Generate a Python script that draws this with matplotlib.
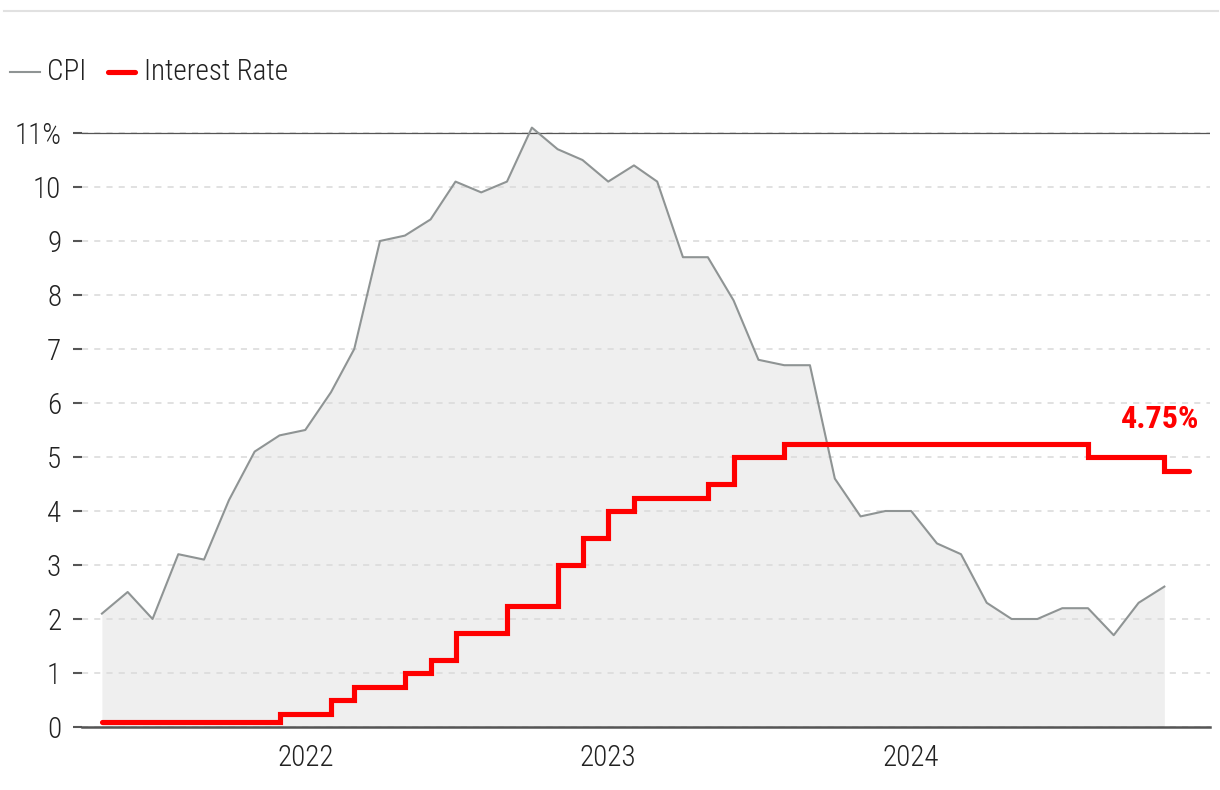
import matplotlib
matplotlib.use('Agg')
import matplotlib.pyplot as plt
import matplotlib.dates as mdates
from matplotlib import font_manager
from matplotlib.lines import Line2D
import pandas as pd

# pick a narrow font if one is installed
names = {f.name for f in font_manager.fontManager.ttflist}
narrow = [n for n in ['Liberation Sans Narrow', 'Roboto Condensed',
                      'DejaVu Sans Condensed', 'Open Sans Condensed'] if n in names]
plt.rcParams['font.family'] = narrow[:1] + ['DejaVu Sans']
plt.rcParams['font.stretch'] = 'condensed'
plt.rcParams['font.weight'] = 'light'

# Monthly CPI, May 2021 - Nov 2024 (%)
cpi_months = pd.date_range('2021-05-01', periods=43, freq='MS')
cpi = [2.1, 2.5, 2.0, 3.2, 3.1, 4.2, 5.1, 5.4,
       5.5, 6.2, 7.0, 9.0, 9.1, 9.4, 10.1, 9.9, 10.1, 11.1, 10.7, 10.5,
       10.1, 10.4, 10.1, 8.7, 8.7, 7.9, 6.8, 6.7, 6.7, 4.6, 3.9, 4.0,
       4.0, 3.4, 3.2, 2.3, 2.0, 2.0, 2.2, 2.2, 1.7, 2.3, 2.6]

# Interest rate by month, May 2021 - Dec 2024 (%)
rate_months = pd.date_range('2021-05-01', periods=44, freq='MS')
rate = [0.1, 0.1, 0.1, 0.1, 0.1, 0.1, 0.1, 0.25,
        0.25, 0.5, 0.75, 0.75, 1.0, 1.25, 1.75, 1.75, 2.25, 2.25, 3.0, 3.5,
        4.0, 4.25, 4.25, 4.25, 4.5, 5.0, 5.0, 5.25, 5.25, 5.25, 5.25, 5.25,
        5.25, 5.25, 5.25, 5.25, 5.25, 5.25, 5.25, 5.0, 5.0, 5.0, 4.75, 4.75]

yticks = list(range(0, 12))
ylabels = [str(v) for v in yticks[:-1]] + ['11%']

fs = 21
W, H = 1220, 790
fig = plt.figure(figsize=(12.2, 7.9), dpi=100)
ax = fig.add_axes([82 / W, 63 / H, (1210 - 82) / W, (727 - 116.8) / H])

ax.fill_between(cpi_months, cpi, 0, color='#efefef', lw=0, zorder=1)
ax.plot(cpi_months, cpi, color='#8f9494', lw=1.5, zorder=2)
ax.step(rate_months, rate, where='post', color='#ff0000', lw=3.7,
        solid_capstyle='round', solid_joinstyle='miter', zorder=3)

ax.annotate('4.75%', xy=(rate_months[-1], rate[-1]), xytext=(7, 37),
            textcoords='offset points', ha='right', va='center',
            color='#ff0000', fontsize=23, fontweight='bold')

ax.set_xlim(pd.Timestamp('2021-04-07'), pd.Timestamp('2024-12-26'))
ax.set_ylim(0, 11.3)

ax.set_yticks(yticks)
ax.set_yticklabels(ylabels)
ax.xaxis.set_major_locator(mdates.YearLocator())
ax.xaxis.set_major_formatter(mdates.DateFormatter('%Y'))

ax.grid(axis='y', color='#d9d9d9', lw=1.1, linestyle=(0, (4, 4)))
ax.grid(axis='x', visible=False)
ax.axhline(0, color='#555555', lw=1.8, zorder=4, clip_on=False)
ax.axhline(11, color='#555555', lw=0.9, zorder=1.6)

for s in ax.spines.values():
    s.set_visible(False)

ax.tick_params(axis='y', length=6.5, width=1.5, color='#555555', pad=8.5,
               labelsize=fs, labelcolor='#222222')
ax.tick_params(axis='x', length=0, pad=12, labelsize=fs, labelcolor='#222222')

# legend drawn by hand
fig.add_artist(Line2D([10 / W, 40 / W], [(H - 72) / H] * 2, color='#8f9494', lw=1.5))
fig.text(47 / W, (H - 72) / H, 'CPI', fontsize=fs, color='#222222', va='center')
fig.add_artist(Line2D([108 / W, 135 / W], [(H - 72) / H] * 2, color='#ff0000', lw=3.7,
                      solid_capstyle='round'))
fig.text(144 / W, (H - 72) / H, 'Interest Rate', fontsize=fs, color='#222222', va='center')

# thin rule at top
fig.add_artist(Line2D([4 / W, 1218 / W], [(H - 10.5) / H] * 2, color='#e1e1e1', lw=1.5))

fig.savefig('out.png', dpi=100)
